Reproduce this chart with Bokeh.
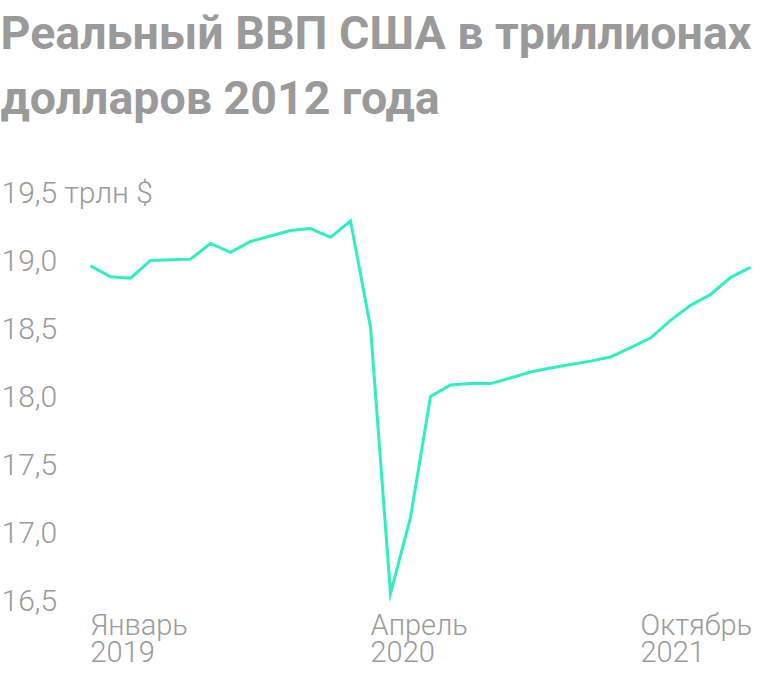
from bokeh.plotting import figure
from bokeh.models import Range1d, Label, ColumnDataSource
from bokeh.embed import file_html
from bokeh.resources import INLINE

# ---- data: monthly real GDP, Jan 2019 .. Oct 2021 (trillions of 2012 $)
months = list(range(34))
gdp = [18.96, 18.88, 18.87, 19.00, 19.005, 19.01, 19.125, 19.06, 19.14, 19.18,
       19.22, 19.235, 19.17, 19.29, 18.51, 16.55, 17.11, 18.00, 18.085, 18.095,
       18.095, 18.136, 18.18, 18.21, 18.235, 18.26, 18.29, 18.36, 18.43, 18.56,
       18.67, 18.75, 18.875, 18.95]

y_ticks = [16.5, 17.0, 17.5, 18.0, 18.5, 19.0, 19.5]
y_tick_labels = ["16,5", "17,0", "17,5", "18,0", "18,5", "19,0", "19,5 трлн $"]

x_label_pos = [0, 14.0, 27.5]
x_label_month = ["Январь", "Апрель", "Октябрь"]
x_label_year = ["2019", "2020", "2021"]

title_lines = ["Реальный ВВП США в триллионах", "долларов 2012 года"]

# ---- layout
W, H = 752, 670
left_px, right_px = 90, 750          # where first / last month sit
px_per_month = (right_px - left_px) / (len(months) - 1)
x0 = -left_px / px_per_month
x1 = (len(months) - 1) + (W - right_px) / px_per_month

px_per_unit = 136.0
y_bottom_val, y_bottom_px = 16.5, 600
y0 = y_bottom_val - (H - y_bottom_px) / px_per_unit
y1 = y_bottom_val + y_bottom_px / px_per_unit

GRAY = "#9a9a9a"
LINE = "#2fefc1"
FONT = "Roboto Light"
TFONT = "Roboto"

p = figure(width=W, height=H, output_backend="svg", toolbar_location=None,
           x_range=Range1d(x0, x1), y_range=Range1d(y0, y1),
           min_border=0, min_border_left=0, min_border_right=0,
           min_border_top=0, min_border_bottom=0)
p.xaxis.visible = False
p.yaxis.visible = False
p.grid.visible = False
p.outline_line_color = None
p.background_fill_color = "white"
p.border_fill_color = "white"

src = ColumnDataSource(dict(x=months, y=gdp))
p.line("x", "y", source=src, line_color=LINE, line_width=3, line_join="miter")

# y tick labels
for v, t in zip(y_ticks, y_tick_labels):
    p.add_layout(Label(x=1, x_units="screen", y=v, y_units="data", text=t,
                       text_font=FONT, text_font_size="30px", text_color=GRAY,
                       text_baseline="middle", text_align="left"))

# x labels
for xp, m, yr in zip(x_label_pos, x_label_month, x_label_year):
    p.add_layout(Label(x=xp, x_units="data", y=H - 624, y_units="screen", text=m,
                       text_font=FONT, text_font_size="29px", text_color=GRAY,
                       text_baseline="middle", text_align="left"))
    p.add_layout(Label(x=xp, x_units="data", y=H - 651, y_units="screen", text=yr,
                       text_font=FONT, text_font_size="29px", text_color=GRAY,
                       text_baseline="middle", text_align="left"))

# title
for i, t in enumerate(title_lines):
    p.add_layout(Label(x=0, x_units="screen", y=H - (32 + 65 * i), y_units="screen",
                       text=t, text_font=TFONT, text_font_style="bold",
                       text_font_size="46.5px", text_color=GRAY,
                       text_baseline="alphabetic", text_align="left"))

open("out.html", "w").write(file_html(p, INLINE))
